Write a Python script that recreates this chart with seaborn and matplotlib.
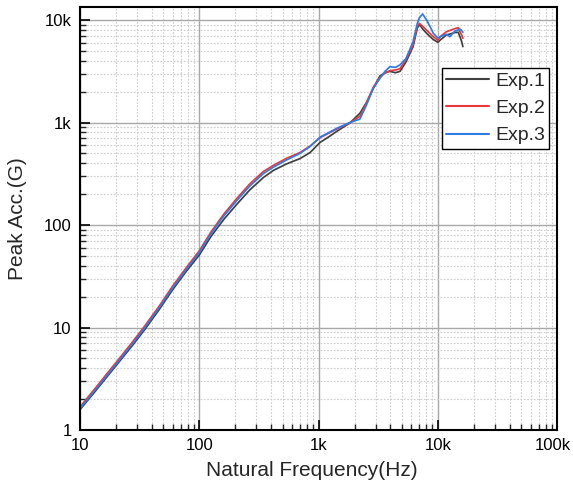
import numpy as np
import pandas as pd
import matplotlib
matplotlib.use("Agg")
import matplotlib.pyplot as plt
import matplotlib.transforms as mtransforms
from matplotlib.ticker import FixedLocator, FixedFormatter, LogLocator, NullFormatter
import seaborn as sns

# === datos ===
freq = [10, 13, 17, 22, 28, 35, 46, 60, 78, 100, 125, 160, 205, 265, 345, 420, 540,
        700, 850, 1030, 1250, 1420, 1830, 2220, 2530, 2870, 3270, 3600, 3960, 4400,
        4810, 5400, 6190, 6710, 7000, 7440, 8040, 8590, 9150, 10000, 10500, 11800,
        12600, 13900, 14800, 15300, 15800, 16200]

exp1 = [1.58, 2.28, 3.35, 4.85, 6.85, 9.6, 14.9, 23.5, 35.5, 51, 77, 113, 158, 220, 291, 342, 395,
        445, 510, 640, 740, 820, 990, 1230, 1580, 2150, 2850, 3050, 3160, 3060,
        3150, 3900, 5500, 8300, 9080, 8200, 7430, 6900, 6450, 6050, 6400, 7150,
        7300, 7550, 7600, 6870, 6200, 5500]

exp2 = [1.68, 2.44, 3.6, 5.2, 7.4, 10.4, 16.1, 25.5, 38.5, 56, 85, 127, 180, 252, 333, 383, 448,
        510, 590, 712, 800, 865, 990, 1150, 1560, 2200, 2750, 3050, 3200, 3250,
        3350, 4100, 5700, 8620, 9250, 8700, 7950, 7400, 6870, 6350, 6900, 7690,
        7900, 8250, 8410, 7700, 7150, 6620]

exp3 = [1.62, 2.35, 3.45, 5.0, 7.1, 10.0, 15.5, 24.5, 37, 54, 82, 122, 172, 240, 318, 368, 432,
        500, 585, 720, 810, 878, 1000, 1080, 1500, 2150, 2700, 3150, 3510, 3450,
        3650, 4200, 6140, 9200, 10500, 11450, 10000, 8620, 7430, 6650, 6900, 7250,
        6870, 7820, 8000, 8170, 7900, 7590]

series_names = ["Exp.1", "Exp.2", "Exp.3"]
colores = ["#404040", "#e8383c", "#2f7be6"]

x_ticks = [10, 100, 1000, 10000, 100000]
x_tick_labels = ["10", "100", "1k", "10k", "100k"]
y_ticks = [1, 10, 100, 1000, 10000]
y_tick_labels = ["1", "10", "100", "1k", "10k"]

# === tabla larga para seaborn ===
df = pd.concat([
    pd.DataFrame({"freq": freq, "acc": vals, "Experiment": name})
    for name, vals in zip(series_names, [exp1, exp2, exp3])
], ignore_index=True)

sns.set_theme(style="ticks")
plt.rcParams['font.family'] = ['Liberation Sans', 'DejaVu Sans']

fig = plt.figure(figsize=(5.73, 4.95), dpi=100)
ax = fig.add_axes([0.1396, 0.1313, 0.8328, 0.8546])

sns.lineplot(data=df, x="freq", y="acc", hue="Experiment", palette=colores,
             linewidth=1.25, ax=ax, sort=False)

ax.set_xscale("log")
ax.set_yscale("log")
ax.set_xlim(10, 1e5)
ax.set_ylim(1, 13400)

ax.xaxis.set_major_locator(FixedLocator(x_ticks))
ax.xaxis.set_major_formatter(FixedFormatter(x_tick_labels))
ax.yaxis.set_major_locator(FixedLocator(y_ticks))
ax.yaxis.set_major_formatter(FixedFormatter(y_tick_labels))
ax.xaxis.set_minor_locator(LogLocator(base=10, subs=np.arange(2, 10), numticks=20))
ax.yaxis.set_minor_locator(LogLocator(base=10, subs=np.arange(2, 10), numticks=20))
ax.xaxis.set_minor_formatter(NullFormatter())
ax.yaxis.set_minor_formatter(NullFormatter())

# rejilla: mayor sólida, menor punteada
ax.grid(which="major", color="#a8a8a8", linestyle="-", linewidth=1.0)
ax.grid(which="minor", color="#cccccc", linestyle=(0, (1.5, 1.5)), linewidth=0.8)
ax.set_axisbelow(True)

ax.tick_params(which="major", direction="in", length=7, width=1.2, labelsize=12,
               colors="black", pad=6)
ax.tick_params(which="minor", direction="in", length=4, width=1.0)
ax.tick_params(top=False, right=False, which="both")

for s in ax.spines.values():
    s.set_visible(True)
    s.set_color("black")
    s.set_linewidth(1.5)

ax.set_xlabel("Natural Frequency(Hz)", fontsize=15)
ax.set_ylabel("Peak Acc.(G)", fontsize=15, labelpad=12)
ax.xaxis.set_label_coords(0.485, -0.073)

# "100k" queda pegado al borde: se corre un poco a la izquierda
fig.canvas.draw()
ultimo = ax.get_xticklabels()[-1]
ultimo.set_transform(ultimo.get_transform() +
                     mtransforms.ScaledTranslation(-3 / 72, 0, fig.dpi_scale_trans))

leg = ax.legend(loc="upper right", bbox_to_anchor=(0.983, 0.856), fontsize=14,
                frameon=True, fancybox=False, edgecolor="black", framealpha=1,
                handlelength=2.2, handletextpad=0.3, borderpad=0.22, labelspacing=0.5,
                borderaxespad=0)
leg.get_frame().set_linewidth(1.0)
for line in leg.get_lines():
    line.set_linewidth(1.5)

fig.savefig("out.png", dpi=100)
